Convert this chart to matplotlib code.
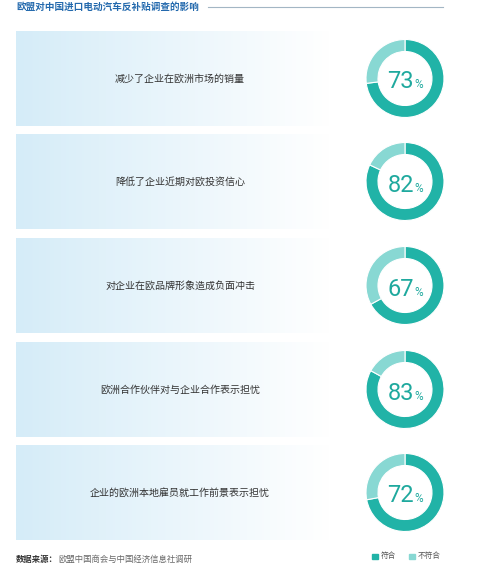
import matplotlib.pyplot as plt
import matplotlib.patches as mpatches
import numpy as np

plt.rcParams['font.family'] = ['Noto Sans CJK SC', 'DejaVu Sans']

title = "欧盟对中国进口电动汽车反补贴调查的影响"
items = ["减少了企业在欧洲市场的销量",
         "降低了企业近期对欧投资信心",
         "对企业在欧品牌形象造成负面冲击",
         "欧洲合作伙伴对与企业合作表示担忧",
         "企业的欧洲本地雇员就工作前景表示担忧"]
agree = [73, 82, 67, 83, 72]
legend_labels = ["符合", "不符合"]
source_head = "数据来源："
source_body = "欧盟中国商会与中国经济信息社调研"

dark = '#21b3a7'
light = '#88d8d3'
W, H = 486, 568

fig = plt.figure(figsize=(W / 100, H / 100), dpi=100)
ax = fig.add_axes([0, 0, 1, 1])

def Y(y):  # pixel-from-top to data coords
    return H - y

# title and rule
ax.text(16, Y(7), title, fontsize=6.9, fontweight='bold', color='#2369ad',
        ha='left', va='center')
ax.plot([208, 443], [Y(7), Y(7)], color='#a3b6c4', lw=0.8)

# gradient strip
grad = np.linspace(0, 1, 256)
c0 = np.array([213, 236, 248]) / 255
img = (c0[None, :] * (1 - grad[:, None]) + grad[:, None] * 1.0)[None, :, :]

num_font = ['Roboto', 'DejaVu Sans']
tops = [31, 134, 238, 342, 445]
ph = 95
for i, (lab, val) in enumerate(zip(items, agree)):
    t = tops[i]
    ax.imshow(img, extent=[16, 330, Y(t + ph), Y(t)], aspect='auto',
              interpolation='bilinear', zorder=0)
    cy = t + ph / 2
    ax.text(180, Y(cy), lab, fontsize=7.2, color='#333333', ha='center',
            va='center')
    ax.pie([val, 100 - val], colors=[dark, light], startangle=90,
           counterclock=False, center=(405, Y(cy)), radius=39,
           wedgeprops=dict(width=12, edgecolor='white', linewidth=0.8),
           frame=True)
    ax.text(414, Y(cy + 10), str(val), fontsize=17, family=num_font,
            color='#1fa99e', ha='right', va='baseline')
    ax.text(414.5, Y(cy + 10), '%', fontsize=8.5, family=num_font,
            color='#1fa99e', ha='left', va='baseline')

ax.set_xlim(0, W)
ax.set_ylim(0, H)
ax.axis('off')

# legend
for x0, c, lab in [(372, dark, legend_labels[0]), (409, light, legend_labels[1])]:
    ax.add_patch(mpatches.Rectangle((x0, Y(559)), 5.5, 5.5, color=c))
    ax.text(x0 + 9, Y(556), lab, fontsize=5.5, color='#555555',
            ha='left', va='center')

# source
t1 = ax.text(16, Y(559), source_head, fontsize=6, fontweight='bold',
             color='#333333', ha='left', va='center')
ax.annotate(source_body, xy=(1, 0.5), xycoords=t1, fontsize=6,
            color='#666666', ha='left', va='center')

fig.savefig('out.png', dpi=100)
